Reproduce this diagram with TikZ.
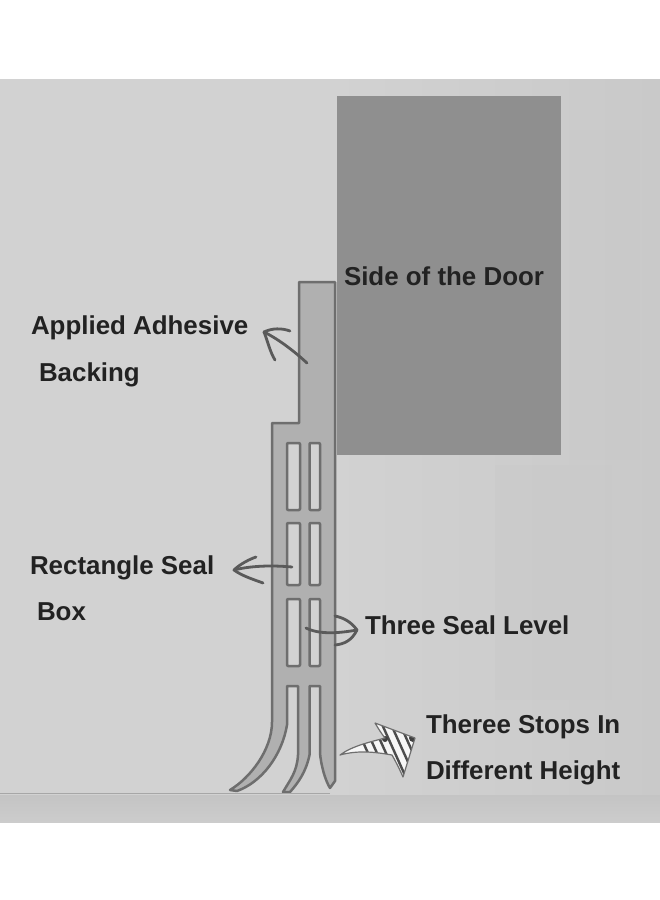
\documentclass[tikz,border=0pt]{standalone}
\usepackage{fontspec}
\setmainfont{Liberation Sans}
\usetikzlibrary{arrows.meta}
\definecolor{bgg}{HTML}{D2D2D2}
\definecolor{bgr}{HTML}{C9C9C9}
\definecolor{floorg}{HTML}{C4C4C4}
\definecolor{floorh}{HTML}{CCCCCC}
\definecolor{doorg}{HTML}{8F8F8F}
\definecolor{bodyg}{HTML}{B0B0B0}
\definecolor{lineg}{HTML}{6E6E6E}
\definecolor{arrowg}{HTML}{5A5A5A}
\definecolor{txt}{HTML}{222222}
\tikzset{
  lab/.style={font=\fontsize{25.9}{28}\selectfont\bfseries, text=txt, anchor=base west, inner sep=0pt, outer sep=0pt},
  sealline/.style={draw=lineg, line width=2.5pt, line join=round},
  slot/.style={sealline, fill=bgg, rounded corners=1pt},
  handarrow/.style={draw=arrowg, line width=2.8pt, line cap=round, line join=round},
}
\begin{document}
\begin{tikzpicture}[x=1pt,y=-1pt]
\useasboundingbox (0,0) rectangle (660,900);
\fill[white] (0,0) rectangle (660,900);
\shade[left color=bgg, right color=bgr, middle color=bgg] (0,79) rectangle (660,822);
\fill[bgr, opacity=.45] (495,465) rectangle (612,700);
\fill[bgr, opacity=.35] (570,130) rectangle (640,460);
\shade[top color=floorg, bottom color=floorh] (0,795) rectangle (660,822);
\fill[doorg] (337,96) rectangle (561,455);
% seal profile
\path[sealline, fill=bodyg]
 (299,282) -- (335,282) -- (335,781) -- (330,788)
 .. controls (325,780) and (321,765) .. (320,753)
 -- (320,686) -- (309.5,686) -- (309.5,755)
 .. controls (306,772) and (298,783) .. (290,792) -- (283,792)
 .. controls (290,780) and (297,772) .. (298,755)
 -- (298,686) -- (287,686) -- (287,725)
 .. controls (282,755) and (262,782) .. (237,791) -- (230,790)
 .. controls (250,778) and (272,750) .. (272,722)
 -- (272,423) -- (299,423) -- cycle;
% slots
\foreach \a/\b in {443/510,523/585,599/666}{
  \path[slot] (287,\a) rectangle (300,\b);
  \path[slot] (309.5,\a) rectangle (320,\b);
}
\draw[draw=floorg!85!black, line width=1pt] (0,793) -- (330,793);
% labels
\node[lab] (t1) at (344,285) {Side of the Door};
\node[lab] (t2) at (31,334) {Applied Adhesive};
\node[lab] (t3) at (39,381) {Backing};
\node[lab] (t4) at (30,574) {Rectangle Seal};
\node[lab] (t5) at (37,620) {Box};
\node[lab] (t6) at (365,634) {Three Seal Level};
\node[lab] (t7) at (426,733) {Theree Stops In};
\node[lab] (t8) at (426,779) {Different Height};
% adhesive arrow
\coordinate (a1s) at (307,363);
\coordinate (a1t) at (264,332);
\draw[handarrow] (a1s) .. controls (295,352) and (280,340) .. (a1t);
\draw[handarrow] (a1t) .. controls (272,328) and (282,328) .. (290,331);
\draw[handarrow] (a1t) .. controls (268,342) and (270,352) .. (275,360);
% rectangle seal arrow
\coordinate (a2s) at (292,567);
\coordinate (a2t) at (234,570);
\draw[handarrow] (a2s) .. controls (270,565) and (250,566) .. (a2t);
\draw[handarrow] (a2t) .. controls (240,564) and (250,559) .. (256,557);
\draw[handarrow] (a2t) .. controls (242,576) and (255,580) .. (263,583);
% three seal arrow
\coordinate (a3s) at (306,628);
\coordinate (a3t) at (357,630);
\draw[handarrow] (a3s) .. controls (320,635) and (340,633) .. (a3t);
\draw[handarrow] (a3t) .. controls (352,623) and (345,618) .. (335,616);
\draw[handarrow] (a3t) .. controls (352,640) and (345,644) .. (335,645);
% hatched arrow
\coordinate (a4s) at (340,755);
\coordinate (a4t) at (415,738);
\begin{scope}
\clip (a4s) .. controls (352,746) and (370,742) .. (385,738) .. controls (381,733) and (378,728) .. (375,723)
  -- (a4t) -- (403,777) .. controls (399,768) and (396,762) .. (392,755) .. controls (375,752) and (358,750) .. (a4s) -- cycle;
\fill[white!80!bgg] (330,715) rectangle (420,780);
\foreach \k in {0,...,10}{
  \draw[draw=arrowg!85!black, line width=2.4pt] ({354+9*\k},722) -- ({354+9*\k+27},782);
}
\fill[black!75] (413,738) circle (4);
\fill[black!75] (385,739) circle (3);
\end{scope}
\draw[draw=lineg, line width=1.2pt, line join=round] (a4s) .. controls (352,746) and (370,742) .. (385,738) .. controls (381,733) and (378,728) .. (375,723)
  -- (a4t) -- (403,777) .. controls (399,768) and (396,762) .. (392,755) .. controls (375,752) and (358,750) .. (a4s) -- cycle;
\end{tikzpicture}
\end{document}
